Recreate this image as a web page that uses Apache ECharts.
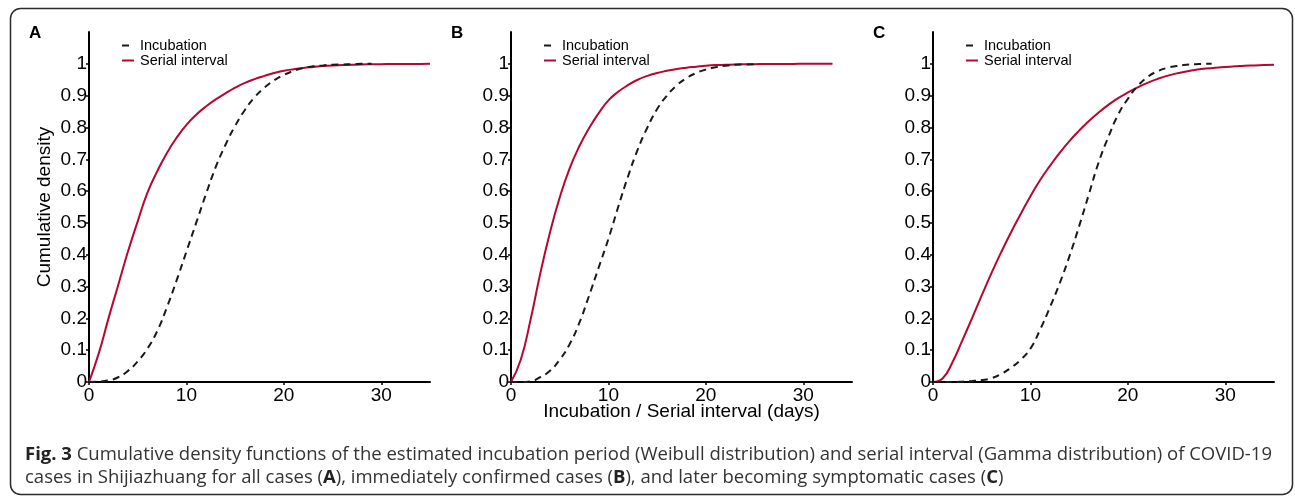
<!DOCTYPE html>
<html>
<head>
<meta charset="utf-8">
<script src="https://cdn.jsdelivr.net/npm/echarts@6/dist/echarts.min.js"></script>
<style>
html,body{margin:0;padding:0;background:#fff;}
#chart{width:1295px;height:498px;}
</style>
</head>
<body>
<div id="chart"></div>
<script>
// ---- data ----
const xTicks = [0, 10, 20, 30];
const yTicks = [0, 0.1, 0.2, 0.3, 0.4, 0.5, 0.6, 0.7, 0.8, 0.9, 1];
const panelLabels = ['A', 'B', 'C'];
const seriesNames = ['Incubation', 'Serial interval'];

// Panel A (all cases)
const daysIncA = [0,1,2,3,4,5,6,7,8,9,10,11,12,13,14,15,16,17,18,19,20,21,22,23,24,25,26,27,28,29];
const incA = [0,0.001,0.005,0.015,0.035,0.065,0.105,0.16,0.235,0.32,0.41,0.5,0.59,0.675,0.745,0.805,0.855,0.895,0.925,0.948,0.965,0.978,0.987,0.992,0.995,0.997,0.998,0.999,1,1];
const daysSiA = [0,1,2,3,4,5,6,7,8,9,10,11,12,13,14,15,16,17,18,19,20,21,22,23,24,25,26,27,28,29,30,31,32,33,34,35];
const siA = [0,0.09,0.2,0.305,0.41,0.505,0.595,0.662,0.72,0.768,0.808,0.84,0.866,0.888,0.907,0.925,0.94,0.952,0.962,0.971,0.978,0.983,0.987,0.99,0.993,0.995,0.996,0.997,0.998,0.9985,0.999,0.9993,0.9995,0.9997,0.9998,0.9999];

// Panel B (immediately confirmed cases)
const daysIncB = [0,1,2,3,4,5,6,7,8,9,10,11,12,13,14,15,16,17,18,19,20,21,22,23,24,25];
const incB = [0,0,0.002,0.015,0.035,0.07,0.118,0.185,0.27,0.36,0.45,0.55,0.645,0.73,0.8,0.858,0.9,0.932,0.955,0.971,0.982,0.989,0.994,0.997,0.998,0.999];
const daysSiB = [0,1,2,3,4,5,6,7,8,9,10,11,12,13,14,15,16,17,18,19,20,21,22,23,24,25,26,27,28,29,30,31,32,33];
const siB = [0,0.07,0.195,0.34,0.47,0.58,0.67,0.74,0.797,0.845,0.885,0.912,0.933,0.95,0.962,0.971,0.978,0.984,0.988,0.991,0.994,0.996,0.997,0.998,0.9985,0.999,0.9993,0.9995,0.9997,0.9998,0.9999,1,1,1];

// Panel C (later becoming symptomatic cases)
const daysIncC = [0,1,2,3,4,5,6,7,8,9,10,11,12,13,14,15,16,17,18,19,20,21,22,23,24,25,26,27,28,28.6];
const incC = [0,0,0,0.001,0.003,0.006,0.012,0.025,0.045,0.07,0.105,0.165,0.235,0.31,0.395,0.49,0.59,0.69,0.77,0.84,0.89,0.93,0.958,0.976,0.987,0.993,0.997,0.999,1,1];
const daysSiC = [0,1,2,3,4,5,6,7,8,9,10,11,12,13,14,15,16,17,18,19,20,21,22,23,24,25,26,27,28,29,30,31,32,33,34,35];
const siC = [0,0.012,0.062,0.13,0.2,0.272,0.342,0.408,0.47,0.528,0.584,0.635,0.679,0.72,0.757,0.79,0.82,0.847,0.871,0.892,0.91,0.926,0.94,0.952,0.962,0.97,0.976,0.981,0.985,0.988,0.99,0.992,0.994,0.995,0.996,0.997];

const captionLine1 = ['Fig. 3', ' Cumulative density functions of the estimated incubation period (Weibull distribution) and serial interval (Gamma distribution) of COVID-19'];
const captionLine2 = ['cases in Shijiazhuang for all cases (', 'A', '), immediately confirmed cases (', 'B', '), and later becoming symptomatic cases (', 'C', ')'];

// ---- styles ----
const RED = '#B5072F';
const DARK = '#1a1a1a';
const FONT = '"Liberation Sans", Arial, sans-serif';
const CAPFONT = '"Open Sans", "Noto Sans", sans-serif';
const CAPSIZE = 18.5;
const gridLefts = [89, 511, 933];
const GRID_W = 341, GRID_TOP = 32, GRID_H = 350;
const DASH_ICON = 'path://M0 0H7V2H0ZM12 0H12.01V2H12Z';
const LINE_ICON = 'path://M0 0H12V2H0Z';

const zip = (xs, ys) => xs.map((x, i) => [x, ys[i]]);
const panels = [
  {inc: zip(daysIncA, incA), si: zip(daysSiA, siA)},
  {inc: zip(daysIncB, incB), si: zip(daysSiB, siB)},
  {inc: zip(daysIncC, incC), si: zip(daysSiC, siC)}
];

const grid = [], xAxis = [], yAxis = [], series = [], legend = [], graphic = [];
panels.forEach((p, i) => {
  grid.push({left: gridLefts[i], top: GRID_TOP, width: GRID_W, height: GRID_H, containLabel: false});
  xAxis.push({
    type: 'value', gridIndex: i, min: 0, max: 35, interval: 10,
    name: i === 1 ? 'Incubation / Serial interval (days)' : '',
    nameLocation: 'middle', nameGap: 20, nameMoveOverlap: false,
    nameTextStyle: {fontFamily: FONT, fontSize: 19, color: '#000'},
    axisLine: {show: true, onZero: false, lineStyle: {color: '#000', width: 2}},
    axisTick: {show: true, length: 3, customValues: xTicks, lineStyle: {color: '#000', width: 1.5}},
    axisLabel: {customValues: xTicks, fontFamily: FONT, fontSize: 19, color: '#000', margin: 4},
    splitLine: {show: false}
  });
  yAxis.push({
    type: 'value', gridIndex: i, min: 0, max: 1.1, interval: 0.1,
    name: i === 0 ? 'Cumulative density' : '',
    nameLocation: 'middle', nameGap: 35, nameMoveOverlap: false,
    nameTextStyle: {fontFamily: FONT, fontSize: 19, color: '#000'},
    axisLine: {show: true, onZero: false, lineStyle: {color: '#000', width: 2}},
    axisTick: {show: true, length: 3, customValues: yTicks, lineStyle: {color: '#000', width: 1.5}},
    axisLabel: {customValues: yTicks, fontFamily: FONT, fontSize: 19, color: '#000', margin: 2,
      formatter: v => String(Math.round(v * 10) / 10)},
    splitLine: {show: false}
  });
  series.push({
    name: seriesNames[0], type: 'line', xAxisIndex: i, yAxisIndex: i, data: p.inc,
    showSymbol: false, symbol: 'none', smooth: 0.5,
    lineStyle: {color: DARK, width: 2, type: [7, 5]}, itemStyle: {color: DARK}, z: 3
  });
  series.push({
    name: seriesNames[1], type: 'line', xAxisIndex: i, yAxisIndex: i, data: p.si,
    showSymbol: false, symbol: 'none', smooth: 0.5,
    lineStyle: {color: RED, width: 2}, itemStyle: {color: RED}, z: 2
  });
  legend.push({
    data: [{name: seriesNames[0], icon: DASH_ICON}, {name: seriesNames[1], icon: LINE_ICON}],
    orient: 'vertical', left: gridLefts[i] + 33, top: 38,
    itemWidth: 12, itemHeight: 2, itemGap: 0, padding: 0, selectedMode: false,
    itemStyle: {borderWidth: 0},
    textStyle: {fontFamily: FONT, fontSize: 14.5, lineHeight: 15, color: '#000', padding: [0, 0, 0, 1]}
  });
  graphic.push({
    type: 'text', left: gridLefts[i] - 60, top: 25,
    style: {text: panelLabels[i], font: 'bold 17px ' + FONT, fill: '#000'}
  });
});

// border
graphic.push({
  type: 'rect', shape: {x: 10.5, y: 8.5, width: 1282, height: 486, r: 10},
  style: {fill: 'none', stroke: '#2b2b2b', lineWidth: 1.5}, silent: true
});
// caption
const rich = {b: {fontWeight: 'bold', fontFamily: CAPFONT, fontSize: CAPSIZE, fill: '#222'}};
graphic.push({
  type: 'text', x: 25, y: 455,
  style: {
    text: '{b|' + captionLine1[0] + '}' + captionLine1[1],
    font: CAPSIZE + 'px ' + CAPFONT, fill: '#333', verticalAlign: 'middle', rich
  }
});
graphic.push({
  type: 'text', x: 25, y: 478,
  style: {
    text: captionLine2.map((s, k) => k % 2 === 1 ? '{b|' + s + '}' : s).join(''),
    font: CAPSIZE + 'px ' + CAPFONT, fill: '#333', verticalAlign: 'middle', rich
  }
});

const chart = echarts.init(document.getElementById('chart'), null, {renderer: 'canvas'});
chart.setOption({animation: false, backgroundColor: '#fff', grid, xAxis, yAxis, series, legend, graphic});
</script>
</body>
</html>
